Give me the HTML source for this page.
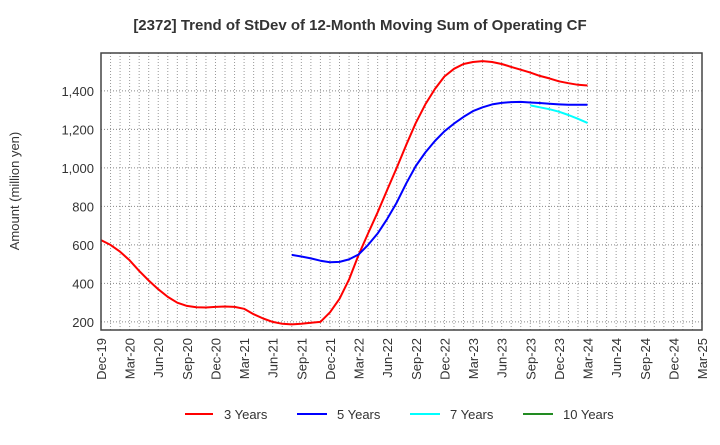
<!DOCTYPE html>
<html><head><meta charset="utf-8"><style>
body{margin:0;background:#fff;font-family:"Liberation Sans",Arial,sans-serif}
svg text{font-family:"Liberation Sans",Arial,sans-serif}
</style></head><body>
<svg id="c" width="720" height="440" xmlns="http://www.w3.org/2000/svg">
<text x="360" y="30" text-anchor="middle" font-size="15" font-weight="bold" fill="#333">[2372]  Trend of StDev of 12-Month Moving Sum of Operating CF</text>
<text transform="translate(19,191) rotate(-90)" text-anchor="middle" font-size="13" fill="#333">Amount (million yen)</text>
<g id="grid"></g><g id="series"></g><g id="axes"></g>
<g>
<g><line x1="185" y1="414" x2="213" y2="414" stroke="#f00" stroke-width="2"/><text x="224" y="419" font-size="13" fill="#333">3 Years</text></g>
<g><line x1="297" y1="414" x2="327" y2="414" stroke="#00f" stroke-width="2"/><text x="337" y="419" font-size="13" fill="#333">5 Years</text></g>
<g><line x1="410" y1="414" x2="440" y2="414" stroke="#0ff" stroke-width="2"/><text x="450" y="419" font-size="13" fill="#333">7 Years</text></g>
<g><line x1="523" y1="414" x2="553" y2="414" stroke="#228b22" stroke-width="2"/><text x="563" y="419" font-size="13" fill="#333">10 Years</text></g>
</g>
</svg>
<script>
const xLabels=["Dec-19","Mar-20","Jun-20","Sep-20","Dec-20","Mar-21","Jun-21","Sep-21","Dec-21","Mar-22","Jun-22","Sep-22","Dec-22","Mar-23","Jun-23","Sep-23","Dec-23","Mar-24","Jun-24","Sep-24","Dec-24","Mar-25"];
const yTicks=[200,400,600,800,1000,1200,1400];
const s3Start=0;
const s3=[625,600,565,520,465,415,370,330,300,283,276,275,278,280,278,268,240,218,200,190,187,190,196,200,250,320,420,548,660,770,886,1000,1120,1234,1330,1410,1475,1515,1540,1550,1555,1550,1540,1525,1510,1495,1478,1465,1450,1440,1432,1428];
const s5Start=20;
const s5=[548,540,530,518,510,512,525,550,600,660,735,820,920,1010,1080,1140,1190,1230,1265,1295,1315,1330,1338,1342,1343,1340,1337,1333,1330,1328,1328,1328];
const s7Start=45;
const s7=[1325,1315,1305,1292,1275,1255,1234];
const s10Start=0;
const s10=[];
const L=101,R=702,T=53,B=330,NM=63,YMIN=158,YMAX=1597;
const NS="http://www.w3.org/2000/svg";
const xS=i=>L+i*(R-L)/NM;
const yS=v=>B-(v-YMIN)*(B-T)/(YMAX-YMIN);
function mk(t,a,p){const e=document.createElementNS(NS,t);for(const k in a)e.setAttribute(k,a[k]);p.appendChild(e);return e;}
const grid=document.getElementById('grid'),axes=document.getElementById('axes'),ser=document.getElementById('series');
for(let i=1;i<NM;i++){const l=mk('line',{x1:xS(i),x2:xS(i),y1:T,y2:B,stroke:'#999','stroke-dasharray':'1,2','stroke-width':1},grid);

}
yTicks.forEach(v=>{const l=mk('line',{x1:L,x2:R,y1:yS(v),y2:yS(v),stroke:'#888','stroke-dasharray':'1,2','stroke-width':1},grid);


const t=mk('text',{x:L-7,y:yS(v)+5,'text-anchor':'end','font-size':13,fill:'#333'},axes);t.textContent=v.toLocaleString('en-US');

});
xLabels.forEach((lab,k)=>{const x=xS(k*3);const t=mk('text',{transform:`translate(${x+5},${B+8}) rotate(-90)`,'text-anchor':'end','font-size':13,fill:'#333'},axes);t.textContent=lab;

});
const fr=mk('rect',{x:L,y:T,width:R-L,height:B-T,fill:'none',stroke:'#444','stroke-width':1.5},axes);


function draw(arr,st,col,name){if(!arr.length)return;const d=arr.map((v,i)=>(i?'L':'M')+xS(st+i).toFixed(1)+','+yS(v).toFixed(1)).join('');
const p=mk('path',{d:d,fill:'none',stroke:col,'stroke-width':2,'stroke-linejoin':'round'},ser);

}
draw(s3,s3Start,'#f00','line-3-years');
draw(s5,s5Start,'#00f','line-5-years');
draw(s7,s7Start,'#0ff','line-7-years');
draw(s10,s10Start,'#228b22','line-10-years');
</script>
</body></html>
